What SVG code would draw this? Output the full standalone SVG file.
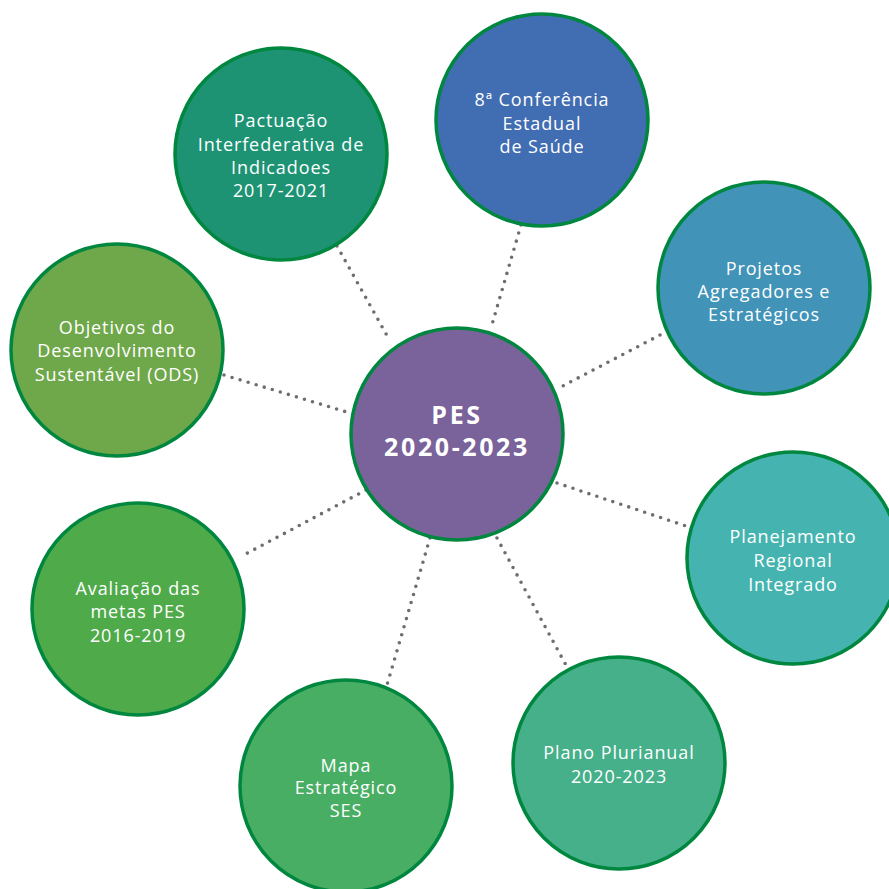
<svg xmlns="http://www.w3.org/2000/svg" width="889" height="889" viewBox="0 0 889 889">
<style>
.con{stroke:#6d6e71;stroke-width:3.6;stroke-linecap:round;stroke-dasharray:0 8.4;fill:none}
.c{stroke:#00873f;stroke-width:3.5}
.t{font-family:"Open Sans","Liberation Sans",sans-serif;font-weight:400;font-size:18px;letter-spacing:0.9px;fill:#ffffff;text-anchor:middle}
.b{font-family:"Open Sans","Liberation Sans",sans-serif;font-weight:700;font-size:25px;letter-spacing:2.6px;fill:#ffffff;text-anchor:middle}
</style>
<rect width="889" height="889" fill="#ffffff"/>
<g id="connectors">
<line class="con" x1="337" y1="246" x2="390" y2="341"/>
<line class="con" x1="521" y1="225" x2="491" y2="328"/>
<line class="con" x1="660" y1="335" x2="557" y2="389"/>
<line class="con" x1="224" y1="375" x2="350" y2="413"/>
<line class="con" x1="557" y1="483" x2="686" y2="526"/>
<line class="con" x1="366" y1="490" x2="240" y2="557"/>
<line class="con" x1="497" y1="538" x2="567" y2="667"/>
<line class="con" x1="430" y1="538" x2="387" y2="685"/>
</g>
<g id="pactuacao">
<circle class="c" cx="281" cy="154" r="106" fill="#1d9374"/>
<text class="t" x="281" y="127">Pactuação</text>
<text class="t" x="281" y="151">Interfederativa de</text>
<text class="t" x="281" y="174">Indicadoes</text>
<text class="t" x="281" y="197">2017-2021</text>
</g>
<g id="conferencia">
<circle class="c" cx="542" cy="120" r="106" fill="#416db2"/>
<text class="t" x="542" y="106">8ª Conferência</text>
<text class="t" x="542" y="130">Estadual</text>
<text class="t" x="542" y="153">de Saúde</text>
</g>
<g id="projetos">
<circle class="c" cx="764" cy="288" r="106" fill="#4193b8"/>
<text class="t" x="764" y="275">Projetos</text>
<text class="t" x="764" y="298">Agregadores e</text>
<text class="t" x="764" y="321">Estratégicos</text>
</g>
<g id="objetivos">
<circle class="c" cx="117" cy="350" r="106" fill="#6fa84a"/>
<text class="t" x="117" y="334">Objetivos do</text>
<text class="t" x="117" y="357">Desenvolvimento</text>
<text class="t" x="117" y="381">Sustentável (ODS)</text>
</g>
<g id="planejamento">
<circle class="c" cx="793" cy="558" r="106" fill="#45b4b0"/>
<text class="t" x="793" y="543">Planejamento</text>
<text class="t" x="793" y="567">Regional</text>
<text class="t" x="793" y="591">Integrado</text>
</g>
<g id="avaliacao">
<circle class="c" cx="138" cy="609" r="106" fill="#4faa4a"/>
<text class="t" x="138" y="595">Avaliação das</text>
<text class="t" x="138" y="618">metas PES</text>
<text class="t" x="138" y="642">2016-2019</text>
</g>
<g id="plano">
<circle class="c" cx="619" cy="763" r="106" fill="#45b08a"/>
<text class="t" x="619" y="759">Plano Plurianual</text>
<text class="t" x="619" y="783">2020-2023</text>
</g>
<g id="mapa">
<circle class="c" cx="346" cy="786" r="106" fill="#48ae64"/>
<text class="t" x="346" y="772">Mapa</text>
<text class="t" x="346" y="794">Estratégico</text>
<text class="t" x="346" y="817">SES</text>
</g>
<g id="pes">
<circle class="c" cx="457" cy="434" r="106" fill="#7a629b"/>
<text class="b" x="457" y="424">PES</text>
<text class="b" x="457" y="456">2020-2023</text>
</g>
</svg>
